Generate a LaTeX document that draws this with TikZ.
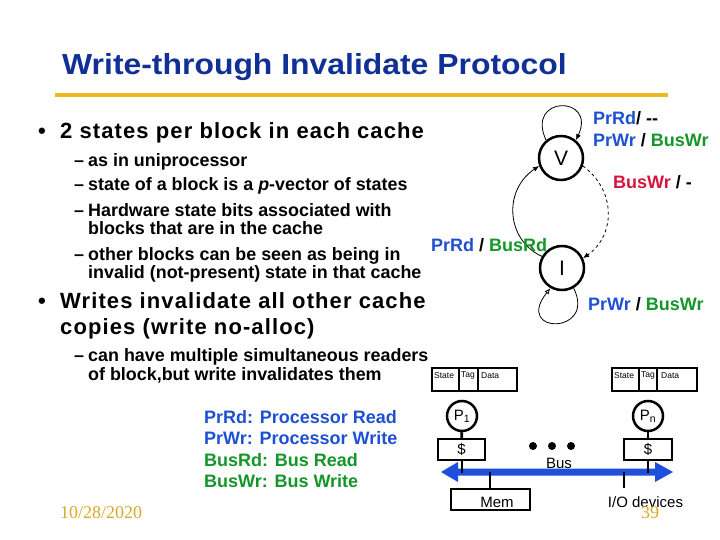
\documentclass[tikz,border=0pt]{standalone}
\usepackage{fontspec}
\usepackage{graphicx}
\setmainfont{Liberation Sans}
\newfontfamily\serifx{Liberation Serif}
\usetikzlibrary{arrows.meta}
\definecolor{titleblue}{RGB}{16,48,150}
\definecolor{gold}{RGB}{238,185,30}
\definecolor{lblue}{RGB}{30,80,210}
\definecolor{lgreen}{RGB}{20,150,40}
\definecolor{lred}{RGB}{215,20,60}
\definecolor{busblue}{RGB}{30,80,220}
\definecolor{dategold}{RGB}{215,170,40}
\newcommand{\fsz}[1]{\fontsize{#1}{#1}\selectfont}
\begin{document}
\begin{tikzpicture}[x=1pt,y=-1pt,
  txt/.style={anchor=base west,inner sep=0pt},
  mainb/.style={txt,font=\fsz{22}\bfseries\addfontfeatures{LetterSpace=5}},
  subb/.style={txt,font=\fsz{17.9}\bfseries},
  lab/.style={txt,font=\fsz{18}\bfseries},
  state/.style={circle,draw,line width=2.5pt,minimum size=44pt,inner sep=0pt,font=\fsz{21}},
  trans/.style={line width=0.8pt,-{Latex[length=6pt,width=5pt]}},
  cellbox/.style={draw,line width=1.8pt},
  celltxt/.style={anchor=west,inner sep=0pt,font=\fsz{8.5}},
  stem/.style={line width=2.6pt},
  small/.style={inner sep=0pt,font=\fsz{15}}]
\useasboundingbox (0,0) rectangle (720,540);
\fill[white] (0,0) rectangle (720,540);

% title
\node[txt,font=\fsz{29}\bfseries,text=titleblue] (title) at (62,74.5) {\scalebox{1.1}[1]{Write-through Invalidate Protocol}};
\draw[gold,line width=4pt] (55,95) -- (668,95);

% bullets
\node[mainb] (dot1) at (38,139) {\textbullet};
\node[mainb] (b1) at (60,139) {2 states per block in each cache};
\node[subb] (d1) at (74,166.3) {–};
\node[subb] (s1) at (88,166.3) {as in uniprocessor};
\node[subb] (d2) at (74,190.3) {–};
\node[subb] (s2) at (88,190.3) {state of a block is a \textit{p}-vector of states};
\node[subb] (d3) at (74,216.3) {–};
\node[subb] (s3) at (88,216.3) {Hardware state bits associated with};
\node[subb] (s3b) at (88,234.3) {blocks that are in the cache};
\node[subb] (d4) at (74,260.3) {–};
\node[subb] (s4) at (88,260.3) {other blocks can be seen as being in};
\node[subb] (s4b) at (88,278.7) {invalid (not-present) state in that cache};
\node[mainb] (dot2) at (38,308.6) {\textbullet};
\node[mainb] (b2) at (60,308.6) {Writes invalidate all other cache};
\node[mainb] (b2b) at (60,334.6) {copies (write no-alloc)};
\node[subb] (d5) at (74,361.3) {–};
\node[subb] (s5) at (88,361.3) {can have multiple simultaneous readers};
\node[subb] (s5b) at (88,380.5) {of block,but write invalidates them};

% legend
\node[lab,text=lblue] (g1) at (204,423.5) {PrRd: Processor Read};
\node[lab,text=lblue] (g2) at (204,444.5) {PrWr: Processor Write};
\node[lab,text=lgreen] (g3) at (204,466.5) {BusRd: Bus Read};
\node[lab,text=lgreen] (g4) at (204,487.5) {BusWr: Bus Write};

% date
\node[txt,font=\serifx\fsz{18},text=dategold] (date) at (60,518) {10/28/2020};

% state diagram
\node[state] (V) at (561,158) {V};
\node[state] (I) at (562,268) {I};
\draw[trans] (V.130) .. controls (525,95) and (597,95) .. (V.50);
\draw[trans] (I.150) .. controls (506,240) and (503,190) .. (V.200);
\draw[trans,dashed] (V.-20) .. controls (616,190) and (616,235) .. (I.25);
\draw[line width=0.8pt,-{Latex[open,length=6pt,width=5pt]}] (I.-60) .. controls (597,335) and (513,335) .. (I.-120);

\node[lab] (l1) at (593,124.5) {\textcolor{lblue}{PrRd}/ -{}-};
\node[lab] (l2) at (593,146.5) {\textcolor{lblue}{PrWr} / \textcolor{lgreen}{BusWr}};
\node[lab] (l3) at (613,188.5) {\textcolor{lred}{BusWr} / -};
\node[lab] (l4) at (431,251.5) {\textcolor{lblue}{PrRd} / \textcolor{lgreen}{BusRd}};
\node[lab] (l5) at (588,310.5) {\textcolor{lblue}{PrWr} / \textcolor{lgreen}{BusWr}};

% cache tables
\draw[cellbox] (432,368) rectangle (517,391);
\draw[cellbox] (459,368) -- (459,391);
\draw[cellbox] (478,368) -- (478,391);
\node[celltxt] (t1s) at (434,375.5) {State};
\node[celltxt] (t1t) at (461,375.5) {Tag};
\node[celltxt] (t1d) at (481,375.5) {Data};
\draw[cellbox] (612,368) rectangle (697,391);
\draw[cellbox] (639,368) -- (639,391);
\draw[cellbox] (657,368) -- (657,391);
\node[celltxt] (t2s) at (614,375.5) {State};
\node[celltxt] (t2t) at (641,375.5) {Tag};
\node[celltxt] (t2d) at (661,375.5) {Data};

% processors and caches
\node[circle,draw,line width=2.5pt,minimum size=30pt,inner sep=0pt,font=\fsz{15}] (P1) at (462,416) {P\textsubscript{1}};
\node[circle,draw,line width=2.5pt,minimum size=30pt,inner sep=0pt,font=\fsz{15}] (Pn) at (648,416) {P\textsubscript{n}};
\node[draw,line width=1.5pt,minimum width=47pt,minimum height=21pt,inner sep=0pt,font=\fsz{15}] (C1) at (461.5,449.5) {\$};
\node[draw,line width=1.5pt,minimum width=48pt,minimum height=21pt,inner sep=0pt,font=\fsz{15}] (Cn) at (648,449.5) {\$};
\draw[stem] (P1) -- (C1);
\draw[stem] (Pn) -- (Cn);

% bus
\node[small] (bustxt) at (559,463.5) {Bus};
\fill[busblue] (441,472) -- (458,462) -- (458,468.5) -- (655,468.5) -- (655,462) -- (673,472)
  -- (655,482) -- (655,475.5) -- (458,475.5) -- (458,482) -- cycle;
\coordinate (bC1) at (462,473);
\coordinate (bCn) at (648,473);
\coordinate (bM) at (490,472);
\coordinate (bIO) at (624,472);
\draw[stem] (C1.south -| bC1) -- (bC1);
\draw[stem] (Cn.south -| bCn) -- (bCn);
\fill (533,446) circle (4pt);
\fill (552,446) circle (4pt);
\fill (571,446) circle (4pt);

% memory and I/O
\node[draw,line width=1.5pt,minimum width=79pt,minimum height=21pt,inner sep=0pt,anchor=north west] (mem) at (450,488) {};
\node[small] (memtxt) at (497,502) {Mem};
\draw[stem] (bM) -- (bM |- mem.north);
\coordinate (ioTop) at (624,488);
\draw[stem] (bIO) -- (ioTop);
\node[small] (io) at (645.5,502) {I/O devices};

% page number
\node[anchor=base,inner sep=0pt,font=\serifx\fsz{18},text=dategold] (pg) at (650,518) {39};
\end{tikzpicture}
\end{document}
